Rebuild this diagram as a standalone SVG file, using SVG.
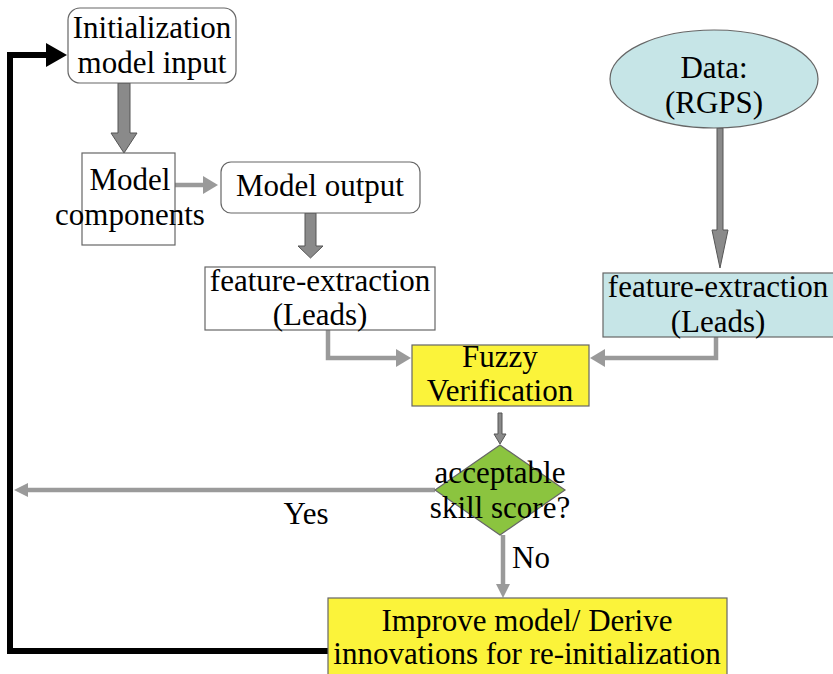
<svg xmlns="http://www.w3.org/2000/svg" width="833" height="674" viewBox="0 0 833 674">
  <style>
    .lbl { font-family: 'Liberation Serif', 'DejaVu Serif', serif; font-size: 31px; fill: #000; text-anchor: middle; }
    .box { stroke: #666; stroke-width: 1.2; }
    .white { fill: #fff; }
    .yellow { fill: #fbf33a; }
    .blue { fill: #c6e5e7; }
    .green { fill: #8bc43f; }
    .fat { fill: #8a8a8a; stroke: #555; stroke-width: 1; }
    .thin { fill: none; stroke: #9a9a9a; stroke-width: 4.5; }
    .head { fill: #9a9a9a; }
    .loop { fill: none; stroke: #000; stroke-width: 6; }
  </style>

  <rect width="833" height="674" fill="#fff"/>

  <!-- connectors -->
  <g id="connectors">
    <!-- feedback loop back to initialization -->
    <path class="loop" d="M328,651 H10 V55 H48"/>
    <polygon points="46,43 67,55 46,67" fill="#000"/>
    <!-- init -> components -->
    <polygon class="fat" points="118,83 130,83 130,133 137,133 124,153 111,133 118,133"/>
    <!-- components -> model output -->
    <path class="thin" d="M175,185 H205"/>
    <polygon class="head" points="203,176 218,185 203,194"/>
    <!-- model output -> feature extraction -->
    <polygon class="fat" points="305,213 316,213 316,246 323,246 310.5,258 298,246 305,246"/>
    <!-- data -> feature extraction -->
    <polygon class="fat" points="717,128 723,128 723,230 728,230 720,268 712,230 717,230"/>
    <!-- model leads -> fuzzy -->
    <path class="thin" d="M328,330 V358 H398"/>
    <polygon class="head" points="396,349 411,358 396,367"/>
    <!-- observed leads -> fuzzy -->
    <path class="thin" d="M716,337 V358 H603"/>
    <polygon class="head" points="605,349 590,358 605,367"/>
    <!-- fuzzy -> decision -->
    <polygon class="fat" points="498,413 502,413 502,434 506,434 500,444 494,434 498,434"/>
    <!-- yes branch -->
    <path class="thin" d="M435,490 H26"/>
    <polygon class="head" points="28,483 14,490 28,497"/>
    <!-- no branch -->
    <path class="thin" d="M503,535 V586"/>
    <polygon class="head" points="496,584 503,598 510,584"/>
    <text class="lbl" x="306" y="524">Yes</text>
    <text class="lbl" x="531" y="568">No</text>
  </g>

  <g id="init">
    <rect class="box white" x="68" y="8" width="168" height="75" rx="12"/>
    <text class="lbl" x="152" y="38">Initialization</text>
    <text class="lbl" x="152" y="73">model input</text>
  </g>

  <g id="components">
    <rect class="box white" x="82" y="153" width="93" height="92"/>
    <text class="lbl" x="130" y="190">Model</text>
    <text class="lbl" x="130" y="225">components</text>
  </g>

  <g id="model-output">
    <rect class="box white" x="221" y="162" width="199" height="51" rx="10"/>
    <text class="lbl" x="320" y="196">Model output</text>
  </g>

  <g id="model-leads">
    <rect class="box white" x="205" y="267" width="230" height="63"/>
    <text class="lbl" x="320" y="291">feature-extraction</text>
    <text class="lbl" x="320" y="325">(Leads)</text>
  </g>

  <g id="data">
    <ellipse class="box blue" cx="714" cy="79" rx="104" ry="49"/>
    <text class="lbl" x="714" y="78">Data:</text>
    <text class="lbl" x="714" y="113">(RGPS)</text>
  </g>

  <g id="observed-leads">
    <rect class="box blue" x="603" y="273" width="232" height="64"/>
    <text class="lbl" x="718" y="297">feature-extraction</text>
    <text class="lbl" x="718" y="332">(Leads)</text>
  </g>

  <g id="fuzzy">
    <rect class="box yellow" x="412" y="345" width="177" height="61"/>
    <text class="lbl" x="500" y="367">Fuzzy</text>
    <text class="lbl" x="500" y="401">Verification</text>
  </g>

  <g id="decision">
    <polygon class="box green" points="500,445 565,490 500,535 435,490"/>
    <text class="lbl" x="500" y="483">acceptable</text>
    <text class="lbl" x="500" y="518">skill score?</text>
  </g>

  <g id="improve">
    <rect class="box yellow" x="328" y="598" width="399" height="90"/>
    <text class="lbl" x="527" y="631">Improve model/ Derive</text>
    <text class="lbl" x="527" y="664">innovations for re-initialization</text>
  </g>
</svg>
